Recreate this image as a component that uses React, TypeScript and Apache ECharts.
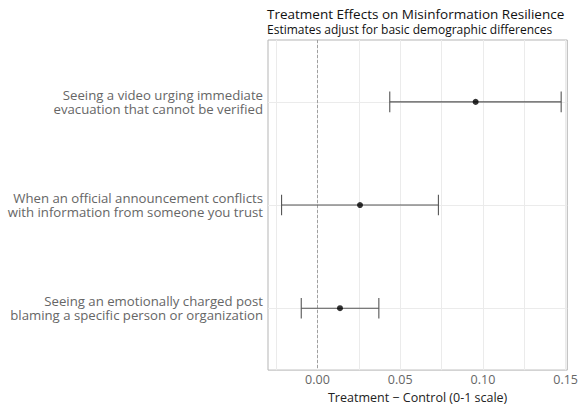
import React, { useEffect, useRef } from "react";
import * as echarts from "echarts";

const categories = [
  "Seeing a video urging immediate\nevacuation that cannot be verified",
  "When an official announcement conflicts\nwith information from someone you trust",
  "Seeing an emotionally charged post\nblaming a specific person or organization",
];
const estimates = [0.0956, 0.0257, 0.0136];
const lowers = [0.0437, -0.0217, -0.0098];
const uppers = [0.1473, 0.0731, 0.0371];
const xTickLabels = [0, 0.05, 0.1, 0.15];
const xGridValues = [-0.025, 0, 0.025, 0.05, 0.075, 0.1, 0.125, 0.15];

const FONT = "'Open Sans', 'DejaVu Sans', sans-serif";

export default function App() {
  const ref = useRef<HTMLDivElement>(null);
  useEffect(() => {
    if (!ref.current) return;
    const chart = echarts.init(ref.current, null, { renderer: "svg" });
    const rows = categories.map((_, i) => i + 1);
    chart.setOption({
      animation: false,
      backgroundColor: "#ffffff",
      title: {
        text: "Treatment Effects on Misinformation Resilience",
        subtext: "Estimates adjust for basic demographic differences",
        left: 262,
        top: 1,
        itemGap: 0,
        textStyle: { fontFamily: FONT, fontSize: 13.5, fontWeight: "normal", color: "#111", lineHeight: 16 },
        subtextStyle: { fontFamily: FONT, fontSize: 12, color: "#111", lineHeight: 14 },
      },
      grid: {
        left: 268,
        right: 11,
        top: 40,
        bottom: 27,
        show: true,
        borderColor: "#b5b5b5",
        borderWidth: 1,
      },
      xAxis: {
        type: "value",
        min: -0.0299,
        max: 0.151,
        name: "Treatment \u2212 Control (0-1 scale)",
        nameLocation: "middle",
        nameGap: 20,
        nameTextStyle: { fontFamily: FONT, fontSize: 12.5, color: "#222" },
        axisLine: { show: false },
        axisTick: { show: false, customValues: xGridValues },
        axisLabel: {
          customValues: xTickLabels,
          formatter: (v: number) => v.toFixed(2),
          fontFamily: FONT,
          fontSize: 12.5,
          color: "#666",
          margin: 3,
        },
        splitLine: { show: true, lineStyle: { color: "#ebebeb", width: 1 } },
      },
      yAxis: {
        type: "value",
        min: 0.4,
        max: 3.6,
        inverse: true,
        axisLine: { show: false },
        axisTick: { show: false, customValues: rows },
        axisLabel: {
          customValues: rows,
          formatter: (v: number) => categories[Math.round(v) - 1] || "",
          fontFamily: FONT,
          fontSize: 13.2,
          lineHeight: 13.5,
          color: "#666",
          align: "right",
          margin: 5,
        },
        splitLine: { show: true, lineStyle: { color: "#ebebeb", width: 1 } },
      },
      series: [
        {
          type: "custom",
          data: rows.map((r, i) => [lowers[i], uppers[i], r]),
          renderItem: (params: any, api: any) => {
            const lo = api.value(0);
            const hi = api.value(1);
            const y = api.value(2);
            const a = api.coord([lo, y]);
            const b = api.coord([hi, y]);
            const capTop = api.coord([lo, y - 0.1]);
            const capBot = api.coord([lo, y + 0.1]);
            const style = { stroke: "#555", lineWidth: 1.1 };
            return {
              type: "group",
              children: [
                { type: "line", shape: { x1: a[0], y1: a[1], x2: b[0], y2: b[1] }, style },
                { type: "line", shape: { x1: a[0], y1: capTop[1], x2: a[0], y2: capBot[1] }, style },
                { type: "line", shape: { x1: b[0], y1: capTop[1], x2: b[0], y2: capBot[1] }, style },
              ],
            };
          },
          z: 2,
        },
        {
          type: "scatter",
          data: rows.map((r, i) => [estimates[i], r]),
          symbol: "circle",
          symbolSize: 6,
          itemStyle: { color: "#000" },
          z: 3,
          markLine: {
            silent: true,
            symbol: ["none", "none"],
            label: { show: false },
            lineStyle: { color: "#a0a0a0", type: [3, 2], width: 1 },
            data: [{ xAxis: 0 }],
            z: 1,
          },
        },
      ],
    });
    return () => chart.dispose();
  }, []);
  return <div ref={ref} style={{ width: 581, height: 409, position: "absolute", left: 0, top: 0 }} />;
}
